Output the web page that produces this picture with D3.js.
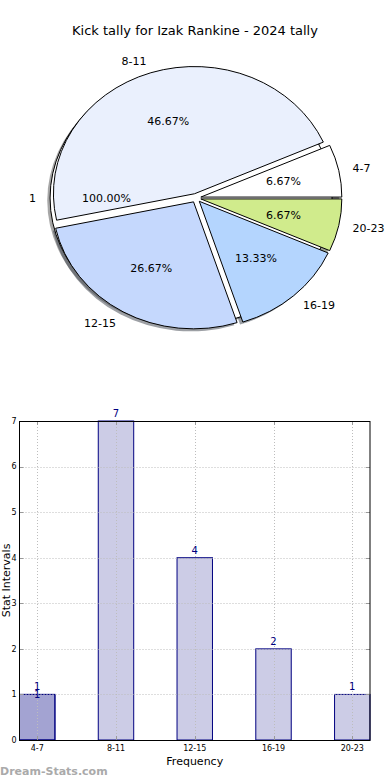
<!DOCTYPE html>
<html>
<head>
<meta charset="utf-8">
<script src="https://cdn.jsdelivr.net/npm/d3@7"></script>
<style>
  body { margin: 0; background: #fff; }
  text { font-family: "DejaVu Sans", sans-serif; }
</style>
</head>
<body>
<svg id="chart" width="390" height="780"></svg>
<script>
// data
const categories = ['4-7', '8-11', '12-15', '16-19', '20-23'];
const tallies = [1, 7, 4, 2, 1];
const sliceColors = ['#ffffff', '#eaf0fd', '#c5d8fd', '#b4d5fe', '#d0eb8c'];
const totalLabel = ['1'];
const totalValue = [1];
const yTicks = [0, 1, 2, 3, 4, 5, 6, 7];

const svg = d3.select('#chart');

// title
svg.append('text')
  .attr('x', 195).attr('y', 35)
  .attr('text-anchor', 'middle')
  .attr('font-size', 13)
  .text('Kick tally for Izak Rankine - 2024 tally');

// ---- pie (elliptical, matplotlib style, counter-clockwise from east) ----
const cx = 196, cy = 198, rx = 141, ry = 127;
const explode = 0.035;

const pie = d3.pie().sort(null).startAngle(Math.PI / 2).endAngle(Math.PI / 2 - 2 * Math.PI);
const arc = d3.arc().innerRadius(0).outerRadius(1);

const slices = pie(tallies).map((d, i) => ({ ...d, label: categories[i], color: sliceColors[i] }));
const total = d3.sum(tallies);
const fullSlice = pie(totalValue).map((d, i) => ({ ...d, label: totalLabel[i], color: '#ffffff' }));
const allSlices = fullSlice.concat(slices);

const mid = d => (d.startAngle + d.endAngle) / 2;
const place = (d, dist) => {
  const a = mid(d);
  return [cx + rx * (explode + dist) * Math.sin(a), cy - ry * (explode + dist) * Math.cos(a)];
};
const sliceTransform = (d, dx, dy) => {
  const a = mid(d);
  return `translate(${cx + dx},${cy + dy}) scale(${rx},${ry}) translate(${explode * Math.sin(a)},${-explode * Math.cos(a)})`;
};

// shadows first
svg.append('g')
  .selectAll('path')
  .data(allSlices)
  .join('path')
  .attr('d', arc)
  .attr('transform', d => sliceTransform(d, -2.8, 2.5))
  .attr('fill', d => {
    const c = d3.rgb(d.color);
    return d3.rgb(c.r * 0.3, c.g * 0.3, c.b * 0.3);
  })
  .attr('fill-opacity', 0.5);

svg.append('g')
  .selectAll('path')
  .data(allSlices)
  .join('path')
  .attr('d', arc)
  .attr('transform', d => sliceTransform(d, 0, 0))
  .attr('fill', d => d.color)
  .attr('stroke', '#000')
  .attr('stroke-width', 1)
  .attr('vector-effect', 'non-scaling-stroke');

// outer labels
svg.append('g')
  .selectAll('text')
  .data(allSlices)
  .join('text')
  .attr('x', d => place(d, 1.1)[0])
  .attr('y', d => place(d, 1.1)[1])
  .attr('dy', '0.35em')
  .attr('text-anchor', d => Math.sin(mid(d)) < 0 ? 'end' : 'start')
  .attr('font-size', 11)
  .text(d => d.label);

// percentage labels
svg.append('g')
  .selectAll('text')
  .data(allSlices)
  .join('text')
  .attr('x', d => place(d, 0.6)[0])
  .attr('y', d => place(d, 0.6)[1])
  .attr('dy', '0.35em')
  .attr('text-anchor', 'middle')
  .attr('font-size', 11)
  .text(d => {
    const sum = d.label === totalLabel[0] ? d3.sum(totalValue) : total;
    return (d.value / sum * 100).toFixed(2) + '%';
  });

// ---- bar chart ----
const plotLeft = 19.5, plotRight = 370, plotTop = 421, plotBottom = 740;

const x = d3.scaleBand().domain(categories).range([plotLeft, plotRight]).paddingInner(0.55).paddingOuter(0);
const y = d3.scaleLinear().domain([0, 7]).range([plotBottom, plotTop]);

const barFill = 'rgba(0,0,128,0.2)';
const navy = '#000080';

const bars = svg.append('g');
bars.selectAll('rect.main')
  .data(tallies)
  .join('rect')
  .attr('class', 'main')
  .attr('x', (d, i) => x(categories[i]))
  .attr('y', d => y(d))
  .attr('width', x.bandwidth())
  .attr('height', d => y(0) - y(d))
  .attr('fill', barFill)
  .attr('stroke', navy)
  .attr('stroke-width', 1);

// extra series overlapping the first category
bars.selectAll('rect.extra')
  .data(totalValue)
  .join('rect')
  .attr('class', 'extra')
  .attr('x', x(categories[0]))
  .attr('y', d => y(d))
  .attr('width', x.bandwidth())
  .attr('height', d => y(0) - y(d))
  .attr('fill', barFill)
  .attr('stroke', navy)
  .attr('stroke-width', 1);

// grid (dotted, above bars)
const cxBand = d => Math.round(x(d) + x.bandwidth() / 2) + 0.5;
const grid = svg.append('g').attr('stroke', '#bdbdbd').attr('stroke-dasharray', '1,2');
grid.selectAll('line.h')
  .data(yTicks)
  .join('line')
  .attr('class', 'h')
  .attr('x1', plotLeft).attr('x2', plotRight)
  .attr('y1', d => Math.round(y(d)) + 0.5).attr('y2', d => Math.round(y(d)) + 0.5);
grid.selectAll('line.v')
  .data(categories)
  .join('line')
  .attr('class', 'v')
  .attr('x1', cxBand).attr('x2', cxBand)
  .attr('y1', plotTop).attr('y2', plotBottom);

// inward ticks
const ticks = svg.append('g').attr('stroke', '#999');
ticks.selectAll('line.yl').data(yTicks).join('line').attr('class', 'yl')
  .attr('x1', plotLeft).attr('x2', plotLeft + 4)
  .attr('y1', d => Math.round(y(d)) + 0.5).attr('y2', d => Math.round(y(d)) + 0.5);
ticks.selectAll('line.yr').data(yTicks).join('line').attr('class', 'yr')
  .attr('x1', plotRight - 4).attr('x2', plotRight)
  .attr('y1', d => Math.round(y(d)) + 0.5).attr('y2', d => Math.round(y(d)) + 0.5);
ticks.selectAll('line.xb').data(categories).join('line').attr('class', 'xb')
  .attr('x1', cxBand).attr('x2', cxBand)
  .attr('y1', plotBottom - 4).attr('y2', plotBottom);
ticks.selectAll('line.xt').data(categories).join('line').attr('class', 'xt')
  .attr('x1', cxBand).attr('x2', cxBand)
  .attr('y1', plotTop).attr('y2', plotTop + 4);

// frame
svg.append('rect')
  .attr('x', plotLeft).attr('y', plotTop + 0.5)
  .attr('width', plotRight - plotLeft).attr('height', plotBottom - plotTop)
  .attr('fill', 'none')
  .attr('stroke', '#000')
  .attr('stroke-width', 1);

// tick labels
svg.append('g')
  .selectAll('text')
  .data(yTicks)
  .join('text')
  .attr('x', plotLeft - 3)
  .attr('y', d => y(d))
  .attr('dy', '0.35em')
  .attr('text-anchor', 'end')
  .attr('font-size', 8)
  .text(d => d);

svg.append('g')
  .selectAll('text')
  .data(categories)
  .join('text')
  .attr('x', d => x(d) + x.bandwidth() / 2)
  .attr('y', plotBottom + 11)
  .attr('text-anchor', 'middle')
  .attr('font-size', 8)
  .text(d => d);

// value labels
svg.append('g')
  .selectAll('text')
  .data(tallies)
  .join('text')
  .attr('x', (d, i) => x(categories[i]) + x.bandwidth() / 2)
  .attr('y', d => y(d) - 4)
  .attr('text-anchor', 'middle')
  .attr('font-size', 10)
  .attr('fill', navy)
  .text(d => d);

svg.append('g')
  .selectAll('text')
  .data(totalValue)
  .join('text')
  .attr('x', x(categories[0]) + x.bandwidth() / 2)
  .attr('y', d => y(d) + 4)
  .attr('text-anchor', 'middle')
  .attr('font-size', 10)
  .attr('fill', navy)
  .text(d => d);

// axis titles
svg.append('text')
  .attr('x', (plotLeft + plotRight) / 2).attr('y', 765)
  .attr('text-anchor', 'middle')
  .attr('font-size', 11)
  .text('Frequency');

svg.append('text')
  .attr('transform', `translate(10,${(plotTop + plotBottom) / 2}) rotate(-90)`)
  .attr('text-anchor', 'middle')
  .attr('font-size', 11)
  .text('Stat Intervals');

// watermark
svg.append('text')
  .attr('x', 0).attr('y', 775)
  .attr('font-size', 11)
  .attr('font-weight', 'bold')
  .attr('fill', '#aaa')
  .text('Dream-Stats.com');
</script>
</body>
</html>
